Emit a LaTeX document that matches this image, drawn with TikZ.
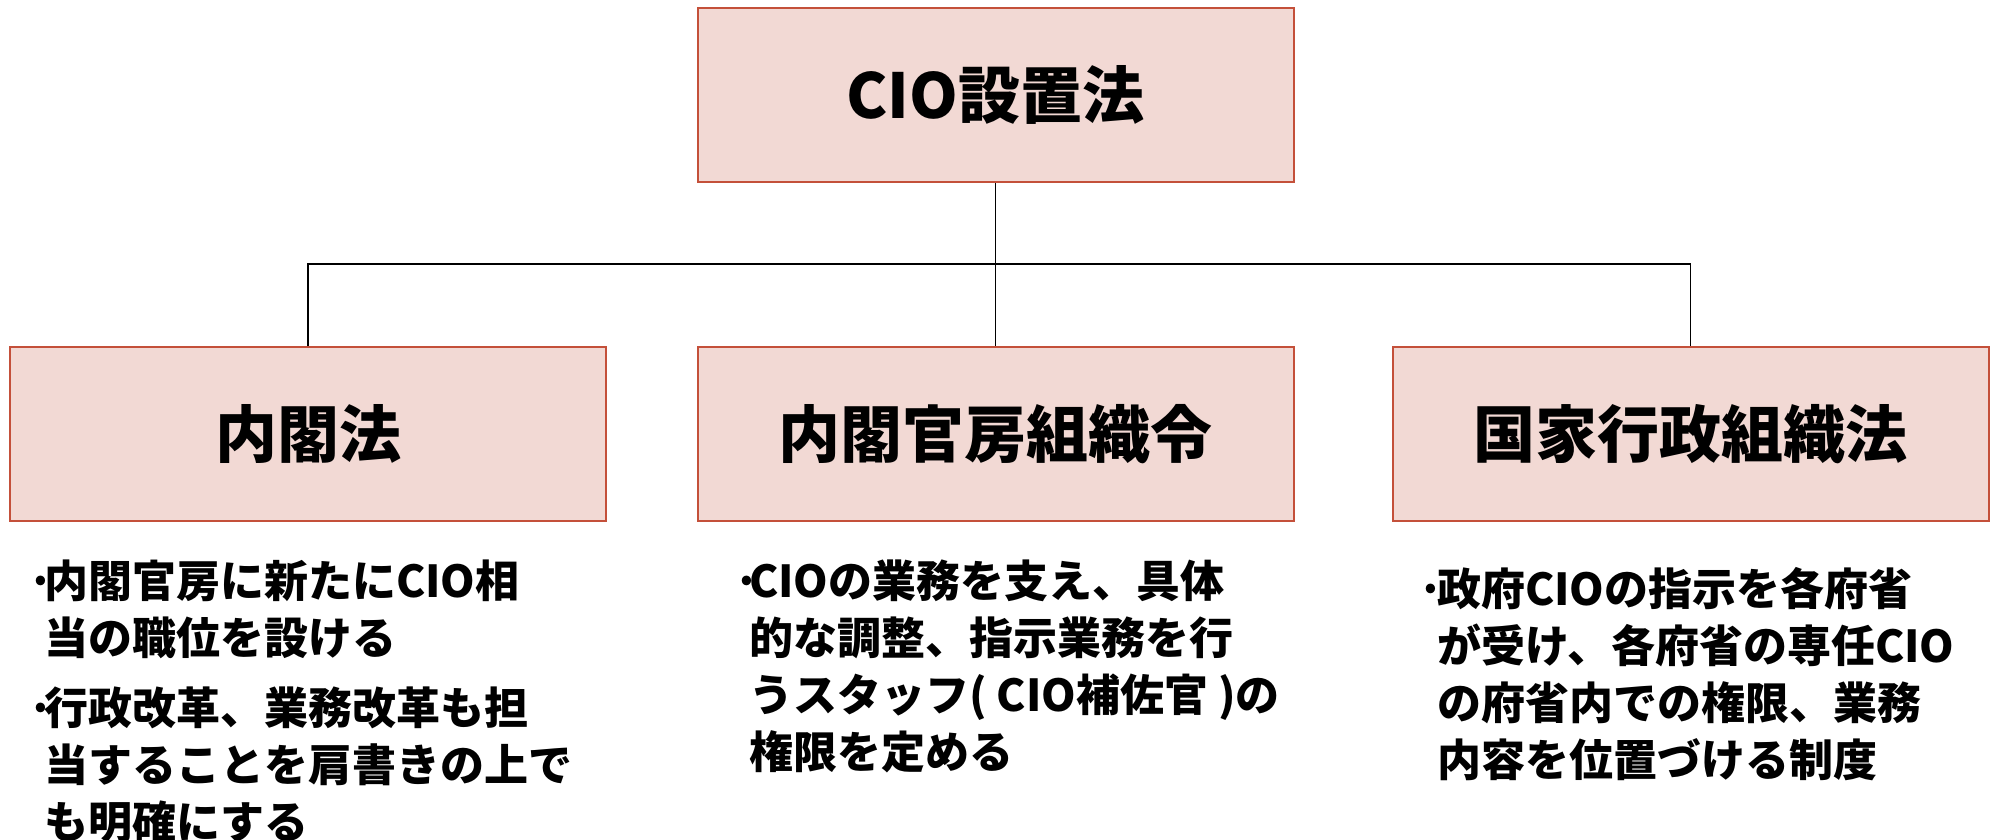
\documentclass[tikz,border=0pt]{standalone}
\usepackage{fontspec}
\setmainfont{Noto Sans CJK JP}
\definecolor{boxfill}{RGB}{242,217,212}
\definecolor{boxborder}{RGB}{196,80,58}
\newcommand\mytitlefont{\fontsize{62}{70}\selectfont\bfseries}
\newcommand\mydescfont{\fontsize{44}{57}\selectfont\bfseries}
\newcommand\bul[1]{\makebox[#1][l]{·}}
\begin{document}
\begin{tikzpicture}[x=1pt,y=-1pt,
  lawbox/.style={draw=boxborder, fill=boxfill, line width=2pt,
    minimum width=596pt, minimum height=174pt, inner sep=0pt, font=\mytitlefont},
  conn/.style={line width=1.8pt, black},
  desc/.style={anchor=base west, inner sep=0pt, font=\mydescfont}]
\useasboundingbox (0,0) rectangle (1993,840);

\node[lawbox] (top) at (995.5,95) {CIO設置法};
\node[lawbox] (left) at (308,434) {内閣法};
\node[lawbox] (mid) at (995.5,434) {内閣官房組織令};
\node[lawbox] (right) at (1690.5,434) {国家行政組織法};

\coordinate (hub) at (995.5,264);
\draw[conn] (top.south) -- (hub);
\draw[conn] (left.north) -- (left.north |- hub) -- (right.north |- hub) -- (right.north);
\draw[conn] (hub) -- (mid.north);

\node[desc] (ltext) at (27,597) {\parbox[t]{620pt}{\raggedright
\bul{17pt}内閣官房に新たにCIO相\\
\hspace*{17pt}当の職位を設ける\\[13pt]
\bul{17pt}行政改革、業務改革も担\\
\hspace*{17pt}当することを肩書きの上で\\
\hspace*{17pt}も明確にする}};

\node[desc] (mtext) at (733,597) {\parbox[t]{620pt}{\raggedright
\bul{16pt}CIOの業務を支え、具体\\
\hspace*{16pt}的な調整、指示業務を行\\
\hspace*{16pt}うスタッフ( CIO補佐官 )の\\
\hspace*{16pt}権限を定める}};

\node[desc] (rtext) at (1417,605) {\parbox[t]{560pt}{\raggedright
\bul{20pt}政府CIOの指示を各府省\\
\hspace*{20pt}が受け、各府省の専任CIO\\
\hspace*{20pt}の府省内での権限、業務\\
\hspace*{20pt}内容を位置づける制度}};
\end{tikzpicture}
\end{document}
